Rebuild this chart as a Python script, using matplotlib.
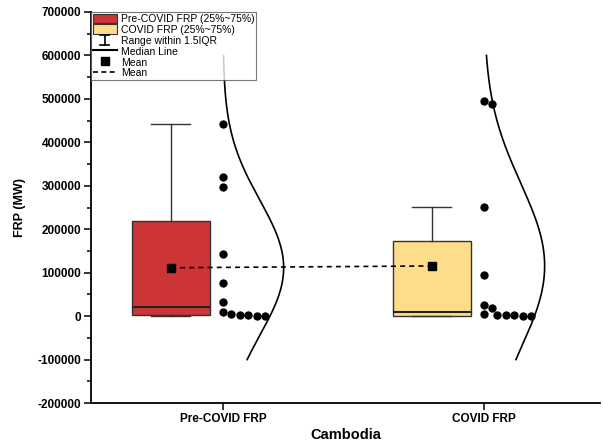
import numpy as np
import matplotlib
matplotlib.use("Agg")
import matplotlib.pyplot as plt
from matplotlib.lines import Line2D
from matplotlib.patches import Patch
from matplotlib.legend_handler import HandlerBase
from matplotlib.ticker import MultipleLocator

plt.rcParams["font.family"] = ["Liberation Sans", "DejaVu Sans"]

# values
categories = ["Pre-COVID FRP", "COVID FRP"]
pre_covid = [442000, 321000, 298000, 143000, 77000, 33000, 10000, 5000, 3000, 2000, 1000, 1000]
covid = [496000, 488000, 252000, 94000, 25000, 18000, 4000, 3000, 2000, 1500, 1000, 500]
q1 = [2000, 1000]
medians = [20000, 10000]
q3 = [220000, 173000]
whis_lo = [0, 0]
whis_hi = [442000, 252000]
legend_labels = ["Pre-COVID FRP (25%~75%)", "COVID FRP (25%~75%)", "Range within 1.5IQR",
                 "Median Line", "Mean", "Mean"]

colors = ["#CD3436", "#FDDC8A"]
groups = [pre_covid, covid]
means = [np.mean(g) for g in groups]


class WhiskerHandler(HandlerBase):
    def create_artists(self, legend, orig_handle, xdescent, ydescent, width, height, fontsize, trans):
        cx = width / 2 - xdescent
        y0, y1 = -ydescent, height - ydescent
        w = 3.5
        arts = [Line2D([cx, cx], [y0, y1]),
                Line2D([cx - w, cx + w], [y1, y1]),
                Line2D([cx - w, cx + w], [y0, y0])]
        for a in arts:
            a.set_color("black")
            a.set_linewidth(1.2)
            a.set_transform(trans)
        return arts


def swarm(values, ax, xpos, diam=8.5):
    # simple one-sided beeswarm in pixel space
    pts = ax.transData.transform([(xpos, v) for v in values])
    ypix = pts[:, 1]
    order = np.argsort(values)[::-1]
    placed = []
    offs = np.zeros(len(values))
    for i in order:
        cands = [0.0]
        for (xo, yo) in placed:
            dy = abs(ypix[i] - yo)
            if dy < diam:
                cands.append(xo + np.sqrt(diam ** 2 - dy ** 2))
        for c in sorted(cands):
            ok = all((c - xo) ** 2 + (ypix[i] - yo) ** 2 >= diam ** 2 - 1e-6 for xo, yo in placed)
            if ok:
                offs[i] = c
                placed.append((c, ypix[i]))
                break
    xs = ax.transData.inverted().transform(np.column_stack([pts[:, 0] + offs, ypix]))[:, 0]
    return xs


def main():
    fig = plt.figure(figsize=(6.03, 4.46), dpi=100)
    ax = fig.add_axes([0.151, 0.0964, 0.844, 0.8767])

    pos = np.arange(1, len(categories) + 1)
    ax.set_xlim(0.494, 2.444)
    ax.set_ylim(-200000, 700000)

    box_pos = pos - 0.2
    stats = []
    for i in range(len(categories)):
        stats.append(dict(med=medians[i], q1=q1[i], q3=q3[i], whislo=whis_lo[i],
                          whishi=whis_hi[i], fliers=[]))
    bp = ax.bxp(stats, positions=box_pos, widths=0.3, patch_artist=True, showfliers=False,
                capwidths=0.15,
                boxprops=dict(edgecolor="#333333", linewidth=1.0),
                medianprops=dict(color="#222222", linewidth=1.5),
                whiskerprops=dict(color="#333333", linewidth=1.0),
                capprops=dict(color="#333333", linewidth=1.0))
    for patch, c in zip(bp["boxes"], colors):
        patch.set_facecolor(c)

    # mean line and markers
    ax.plot(box_pos, means, color="black", linestyle=(0, (3, 2.5)), linewidth=1.2, zorder=3)
    ax.plot(box_pos, means, "s", color="black", markersize=6, zorder=4)

    # data points and normal curves
    for i, g in enumerate(groups):
        xs = swarm(g, ax, pos[i])
        ax.scatter(xs, g, s=36, color="black", zorder=5, linewidths=0)
        mu, sd = np.mean(g), np.std(g, ddof=1)
        yy = np.linspace(-100000, 600000, 300)
        dens = np.exp(-0.5 * ((yy - mu) / sd) ** 2)
        ax.plot(pos[i] + 0.232 * dens, yy, color="black", linewidth=1.2, zorder=4)

    ax.set_xticks(pos)
    ax.set_xticklabels(categories, fontsize=8.5, fontweight="bold")
    ax.yaxis.set_major_locator(MultipleLocator(100000))
    ax.yaxis.set_minor_locator(MultipleLocator(50000))
    ax.set_yticks(ax.get_yticks())
    ax.set_yticklabels([f"{int(t)}" for t in ax.get_yticks()], fontsize=8.5, fontweight="bold")
    ax.set_ylim(-200000, 700000)
    ax.tick_params(axis="both", direction="out", length=5, width=1.1, pad=2)
    ax.tick_params(axis="y", which="minor", direction="out", length=3, width=1.1)
    ax.tick_params(axis="x", which="minor", bottom=False)

    ax.set_ylabel("FRP (MW)", fontsize=9, fontweight="bold", labelpad=8)
    ax.set_xlabel("Cambodia", fontsize=10.5, fontweight="bold", labelpad=2)

    for s in ["top", "right"]:
        ax.spines[s].set_visible(False)
    for s in ["left", "bottom"]:
        ax.spines[s].set_linewidth(1.3)

    handles = [Patch(facecolor=colors[0], edgecolor="#333333", linewidth=0.8),
               Patch(facecolor=colors[1], edgecolor="#333333", linewidth=0.8),
               "whisker",
               Line2D([], [], color="black", linewidth=1.5),
               Line2D([], [], marker="s", color="black", linestyle="none", markersize=5.5),
               Line2D([], [], color="black", linestyle=(0, (3, 2)), linewidth=1.2)]
    leg = ax.legend(handles, legend_labels, loc="upper left", bbox_to_anchor=(0.0, 1.0),
                    borderaxespad=0, frameon=True, fancybox=False, fontsize=7.5,
                    handlelength=2.3, handleheight=1.05, labelspacing=0.05, handletextpad=0.4,
                    borderpad=0.15, handler_map={str: WhiskerHandler()})
    leg.get_frame().set_edgecolor("#555555")
    leg.get_frame().set_linewidth(0.8)

    fig.savefig("out.png", dpi=100)


if __name__ == "__main__":
    main()
